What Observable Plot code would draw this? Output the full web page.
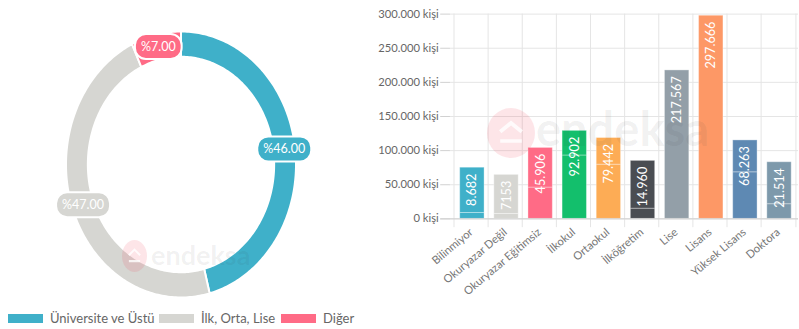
<!DOCTYPE html>
<html><head><meta charset="utf-8">
<script src="https://cdn.jsdelivr.net/npm/d3@7"></script>
<script src="https://cdn.jsdelivr.net/npm/@observablehq/plot@0.6"></script>
<style>
html,body{margin:0;padding:0;background:#fff;overflow:hidden;width:799px;height:329px;}
#root{position:relative;width:799px;height:329px;font-family:Lato,"Open Sans",sans-serif;color:#666;}
.panel{position:absolute;top:0;}
.legend{position:absolute;top:311px;left:0;width:370px;height:14px;font-size:13px;color:#666;white-space:nowrap;}
.legend .it{position:absolute;top:0;display:flex;align-items:center;height:14px;}
.legend .sw{display:inline-block;width:35px;height:9px;margin-right:7px;}
.wm{position:absolute;pointer-events:none;}
</style></head><body><div id="root"></div>
<script>
// ---- Donut data ----
const donutLabels = ["Üniversite ve Üstü", "İlk, Orta, Lise", "Diğer"];
const donutShares = [46, 47, 7];
const donutPct = ["%46.00", "%47.00", "%7.00"];
const donutColors = ["#3fb0c9", "#d6d6d2", "#ff6b86"];

// ---- Bar data ----
const categories = ["Bilinmiyor", "Okuryazar Değil", "Okuryazar Eğitimsiz", "İlkokul", "Ortaokul", "İlköğretim", "Lise", "Lisans", "Yüksek Lisans", "Doktora"];
const barLabels = ["8.682", "7153", "45.906", "92.902", "79.442", "14.960", "217.567", "297.666", "68.263", "21.514"];
const lowerValues = [8682, 7153, 45906, 92902, 79442, 14960, 217567, 297666, 68263, 21514];
const barTotals = [75000, 64500, 104000, 129000, 118500, 85000, 217567, 297666, 115000, 83000];
const barColors = ["#3fb0c9", "#d6d6d2", "#ff6b86", "#13bf6c", "#fdac55", "#4a4d52", "#939fa8", "#fd9866", "#5e89b3", "#7d99ab"];
const yTicks = [0, 50000, 100000, 150000, 200000, 250000, 300000];

const root = document.getElementById("root");
const FONT = 'Lato, "Open Sans", sans-serif';

// ---- Donut geometry (unit ring) ----
const R_IN = 0.81, R_LAB = 0.905;
const totalShare = d3.sum(donutShares);
let acc = 0;
const slices = [];
const labelPts = [];
donutShares.forEach((v, i) => {
  const a0 = acc / totalShare * 2 * Math.PI, a1 = (acc + v) / totalShare * 2 * Math.PI;
  acc += v;
  const n = Math.max(2, Math.ceil((a1 - a0) / (Math.PI / 180)));
  const pts = [];
  for (let k = 0; k <= n; k++) { const a = a0 + (a1 - a0) * k / n; pts.push({x: Math.sin(a), y: Math.cos(a)}); }
  for (let k = n; k >= 0; k--) { const a = a0 + (a1 - a0) * k / n; pts.push({x: R_IN * Math.sin(a), y: R_IN * Math.cos(a)}); }
  pts.push(pts[0]);
  slices.push(pts);
  const am = (a0 + a1) / 2;
  labelPts.push({x: R_LAB * Math.sin(am), y: R_LAB * Math.cos(am), text: donutPct[i], color: donutColors[i]});
});

const donut = Plot.plot({
  width: 370, height: 305,
  marginLeft: 65.5, marginRight: 74.5, marginTop: 31, marginBottom: 8,
  x: {domain: [-1, 1], axis: null},
  y: {domain: [-1, 1], axis: null},
  style: {background: "transparent", fontFamily: FONT},
  marks: [
    ...slices.map((pts, i) => Plot.line(pts, {x: "x", y: "y", fill: donutColors[i], stroke: "white", strokeWidth: 2, curve: "linear"})),
    Plot.text(labelPts, {x: "x", y: "y", text: "text", fill: "white", fontSize: 12.5})
  ]
});
const dWrap = document.createElement("div");
dWrap.className = "panel"; dWrap.style.left = "0px";
dWrap.appendChild(donut);
root.appendChild(dWrap);

// pills behind percentage labels
donut.querySelectorAll('g[aria-label="text"] text').forEach((t, i) => {
  const b = t.getBBox();
  const r = document.createElementNS("http://www.w3.org/2000/svg", "rect");
  r.setAttribute("x", b.x - 6); r.setAttribute("y", b.y - 5);
  r.setAttribute("width", b.width + 12); r.setAttribute("height", b.height + 10);
  r.setAttribute("rx", 11);
  r.setAttribute("fill", labelPts[i].color);
  r.setAttribute("stroke", "white"); r.setAttribute("stroke-width", 2);
  if (t.getAttribute("transform")) r.setAttribute("transform", t.getAttribute("transform"));
  t.parentNode.insertBefore(r, t);
});

// legend
const lg = document.createElement("div");
lg.className = "legend";
const legendLeft = [8, 159, 281];
donutLabels.forEach((l, i) => {
  const it = document.createElement("span"); it.className = "it"; it.style.left = legendLeft[i] + "px";
  const sw = document.createElement("span"); sw.className = "sw"; sw.style.background = donutColors[i];
  it.appendChild(sw); it.appendChild(document.createTextNode(l));
  lg.appendChild(it);
});
root.appendChild(lg);

// ---- Bar chart ----
const BW = 440, ML = 82, MR = 1;
const bandW = (BW - ML - MR) / categories.length;
const barData = [];
categories.forEach((c, i) => {
  barData.push({cat: c, part: "lower", value: lowerValues[i]});
  barData.push({cat: c, part: "upper", value: barTotals[i] - lowerValues[i]});
});
const textData = categories.map((c, i) => ({cat: c, top: barTotals[i], label: barLabels[i]}));
const fmt = d => d3.format(",")(d).replace(/,/g, ".") + " kişi";

const bars = Plot.plot({
  width: BW, height: 329,
  marginLeft: ML, marginRight: MR, marginTop: 14, marginBottom: 105,
  x: {domain: categories, padding: 0, label: null},
  y: {domain: [0, 300000], label: null},
  color: {domain: categories, range: barColors},
  style: {background: "transparent", fontFamily: FONT},
  marks: [
    Plot.gridY(yTicks, {stroke: "#e4e4e4", strokeOpacity: 1}),
    Plot.ruleX(categories, {x: d => d, dx: -bandW / 2, stroke: "#e4e4e4", insetBottom: -9}),
    Plot.ruleX(categories.slice(-1), {x: d => d, dx: bandW / 2, stroke: "#e4e4e4", insetBottom: -9}),
    Plot.barY(barData, {x: "cat", y: "value", fill: "cat", stroke: "white", strokeOpacity: 0.35, strokeWidth: 1, insetLeft: 6, insetRight: 4}),
    Plot.ruleY([0], {stroke: "#cfcfcf", insetLeft: -10}),
    Plot.axisY(yTicks, {tickSize: 10, tickPadding: 2, stroke: "#d0d0d0", fill: "#666", fontSize: 11.5, tickFormat: fmt, label: null}),
    Plot.axisX({tickSize: 0, tickRotate: -40, tickPadding: 12, fill: "#777", fontSize: 11.5, label: null}),
    Plot.text(textData, {x: "cat", y: "top", text: "label", rotate: -90, textAnchor: "end", dy: 6, dx: 1, fill: "white", fontSize: 13})
  ]
});
const bWrap = document.createElement("div");
bWrap.className = "panel"; bWrap.style.left = "370px";
bWrap.appendChild(bars);
root.appendChild(bWrap);

// ---- watermarks ----
function watermark(cx, cy, rx, ry, tx, ty, fs) {
  const ns = "http://www.w3.org/2000/svg";
  const s = document.createElementNS(ns, "svg");
  s.setAttribute("width", 2 * rx + 2); s.setAttribute("height", 2 * ry + 2);
  s.setAttribute("class", "wm");
  s.style.left = (cx - rx - 1) + "px"; s.style.top = (cy - ry - 1) + "px";
  s.innerHTML = `<ellipse cx="${rx + 1}" cy="${ry + 1}" rx="${rx}" ry="${ry}" fill="#f04a5f" fill-opacity="0.14"/>
    <polyline points="${rx + 1 - rx * 0.45},${ry + 1 - ry * 0.05} ${rx + 1},${ry + 1 - ry * 0.4} ${rx + 1 + rx * 0.45},${ry + 1 - ry * 0.05}" fill="none" stroke="white" stroke-opacity="0.8" stroke-width="${rx * 0.16}"/>
    <rect x="${rx + 1 - rx * 0.45}" y="${ry + 1 + ry * 0.25}" width="${rx * 0.9}" height="${ry * 0.14}" fill="white" fill-opacity="0.8"/>`;
  root.appendChild(s);
  const t = document.createElement("div");
  t.className = "wm";
  t.textContent = "endeksa";
  t.style.left = tx + "px"; t.style.top = ty + "px";
  t.style.fontSize = fs + "px"; t.style.fontWeight = "700"; t.style.fontFamily = FONT;
  t.style.color = "rgba(60,60,60,0.07)"; t.style.lineHeight = "1";
  root.appendChild(t);
}
watermark(134, 256, 12.5, 16, 151, 241, 27);
watermark(511, 133, 24, 25, 536, 105, 47);
</script>
</body></html>
